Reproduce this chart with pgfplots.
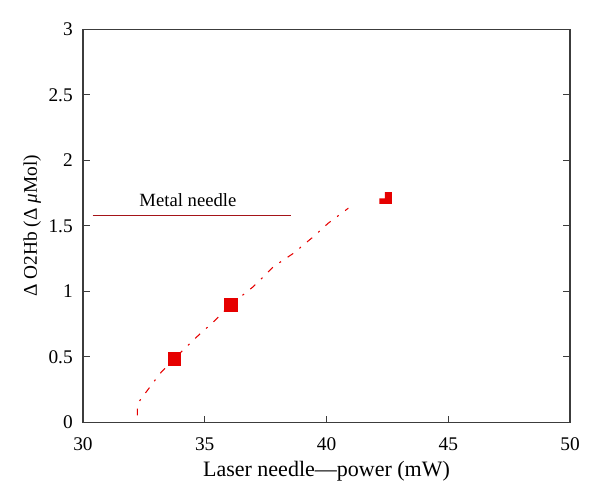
\documentclass[border=0pt]{standalone}
\usepackage{fontspec}
\setmainfont{Liberation Serif}
\usepackage{pgfplots}
\pgfplotsset{compat=1.18}
\definecolor{metal}{RGB}{165,20,25}
\definecolor{laser}{RGB}{230,0,0}
\definecolor{axgray}{RGB}{60,60,60}
\begin{document}
\begin{tikzpicture}
\useasboundingbox (-62.25pt,-60.5pt) rectangle (387.75pt,316.75pt);
\begin{axis}[
  at={(0,0)}, anchor=south west,
  scale only axis, width=365.25pt, height=294.75pt,
  xmin=30, xmax=50, ymin=0, ymax=3,
  xtick={30,35,40,45,50}, ytick={0,0.5,1,1.5,2,2.5,3},
  yticklabels={0,0.5,1,1.5,2,2.5,3},
  axis line style={axgray, line width=0.9pt},
  tick style={axgray, line width=0.9pt},
  tick align=inside, major tick length=5pt,
  xtick pos=bottom, ytick pos=both,
  /pgf/number format/assume math mode=true,
  tick label style={font=\fontsize{14.5}{16}\selectfont, inner sep=0pt},
  xticklabel style={anchor=base, yshift=-21pt},
  yticklabel style={anchor=east, xshift=-7.5pt},
  xlabel={Laser needle—power (mW)},
  ylabel={Δ O2Hb (Δ \textit{μ}Mol)},
  xlabel style={font=\fontsize{16.5}{18}\selectfont, inner sep=0pt, at={(axis description cs:0.5,-0.139)}, anchor=base},
  ylabel style={font=\fontsize{14.5}{16}\selectfont, inner sep=0pt, at={(axis description cs:-0.104,0.5)}, anchor=center},
  clip=false,
]
% metal needle reference line
\addplot[metal, line width=1.1pt] coordinates {(30.40,1.58) (38.54,1.58)};
\node[font=\fontsize{14}{16}\selectfont, anchor=base, inner sep=0pt] at (axis cs:34.31,1.646) {Metal needle};
% laser needle curve
\addplot[laser, line width=0.8pt, dash pattern=on 5pt off 6pt on 1.5pt off 6pt] coordinates {
(32.23,0.054) (32.23,0.117) (32.34,0.168) (33.16,0.372) (33.75,0.487)
(34.67,0.652) (35.29,0.755) (36.08,0.90) (36.99,1.035) (37.82,1.188)
(38.64,1.29) (39.46,1.417) (40.07,1.52) (40.90,1.635)};
\addplot[laser, only marks, mark=square*, mark size=4.8pt, mark options={draw=laser, fill=laser}] coordinates {(33.75,0.487) (36.08,0.90)};
\addplot[laser, fill=laser, draw=none] coordinates {(42.17,1.667) (42.68,1.667) (42.68,1.758) (42.40,1.758) (42.40,1.710) (42.17,1.710)} -- cycle;
\end{axis}
\end{tikzpicture}
\end{document}
